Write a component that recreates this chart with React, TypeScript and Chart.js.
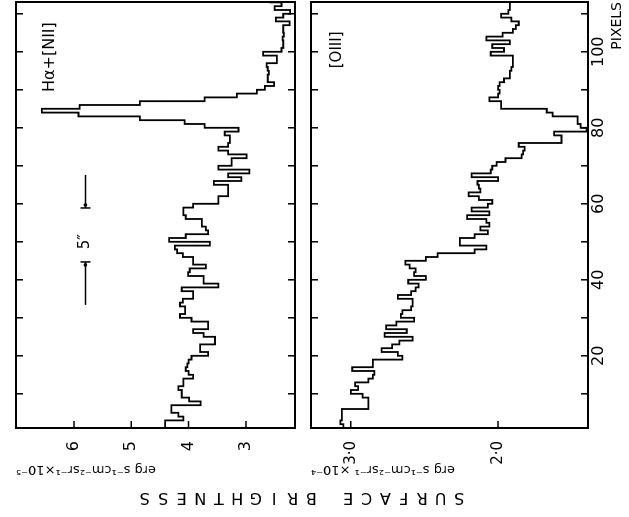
import React, { useEffect, useRef } from 'react';
import { Chart, registerables } from 'chart.js';

Chart.register(...registerables);

// Pixel index along the slit (categories)
const pixels = [
  1, 2, 3, 4, 5, 6, 7, 8, 9, 10, 11, 12, 13, 14, 15, 16, 17, 18, 19, 20,
  21, 22, 23, 24, 25, 26, 27, 28, 29, 30, 31, 32, 33, 34, 35, 36, 37, 38, 39, 40,
  41, 42, 43, 44, 45, 46, 47, 48, 49, 50, 51, 52, 53, 54, 55, 56, 57, 58, 59, 60,
  61, 62, 63, 64, 65, 66, 67, 68, 69, 70, 71, 72, 73, 74, 75, 76, 77, 78, 79, 80,
  81, 82, 83, 84, 85, 86, 87, 88, 89, 90, 91, 92, 93, 94, 95, 96, 97, 98, 99, 100,
  101, 102, 103, 104, 105, 106, 107, 108, 109, 110, 111, 112, 113,
];
const pixelEnd = 114;

// H-alpha + [NII] surface brightness (x10^-5)
const halpha = [
  4.41, 4.41, 4.09, 4.18, 4.30, 4.30, 3.79, 3.99, 4.12, 4.12,
  4.18, 4.09, 4.09, 3.92, 4.00, 4.05, 4.02, 4.00, 3.95, 3.66,
  3.80, 3.80, 3.54, 3.54, 3.74, 3.92, 3.66, 3.66, 3.95, 4.15,
  4.06, 4.06, 4.15, 4.10, 3.92, 3.92, 4.12, 3.48, 3.74, 3.74,
  4.01, 3.98, 3.70, 3.92, 3.92, 4.10, 4.20, 4.24, 3.63, 4.34,
  4.05, 3.66, 3.70, 3.77, 3.77, 4.05, 4.09, 4.09, 3.92, 3.48,
  3.48, 3.31, 3.31, 3.31, 3.56, 3.08, 3.31, 2.94, 3.48, 3.25,
  3.25, 2.99, 3.31, 3.48, 3.31, 3.28, 3.28, 3.37, 3.13, 3.72,
  4.07, 4.85, 5.92, 6.56, 5.90, 4.85, 3.72, 3.16, 2.81, 2.67,
  2.51, 2.62, 2.62, 2.60, 2.62, 2.64, 2.46, 2.46, 2.70, 2.38,
  2.35, 2.35, 2.36, 2.34, 2.35, 2.35, 2.24, 2.48, 2.35, 2.23,
  2.50, 2.38, 2.58,
];

// [OIII] surface brightness (x10^-4)
const oiii = [
  3.05, 3.07, 3.06, 3.06, 3.06, 2.88, 2.88, 2.88, 2.92, 3.00,
  2.95, 2.97, 2.88, 2.85, 2.84, 2.99, 2.85, 2.85, 2.65, 2.68,
  2.79, 2.72, 2.67, 2.58, 2.77, 2.62, 2.76, 2.69, 2.57, 2.66,
  2.65, 2.59, 2.58, 2.58, 2.68, 2.59, 2.56, 2.54, 2.61, 2.49,
  2.57, 2.56, 2.60, 2.63, 2.49, 2.41, 2.16, 2.08, 2.26, 2.26,
  2.16, 2.07, 2.12, 2.06, 2.08, 2.21, 2.06, 2.18, 2.07, 2.04,
  2.13, 2.20, 2.12, 2.13, 2.14, 2.00, 2.18, 2.05, 2.04, 2.01,
  1.95, 1.84, 1.83, 1.82, 1.86, 1.57, 1.57, 1.62, 1.40, 1.44,
  1.46, 1.46, 1.63, 1.67, 1.98, 1.98, 2.06, 2.00, 1.99, 2.00,
  1.99, 1.96, 1.92, 1.92, 1.91, 1.90, 1.90, 1.90, 2.05, 1.96,
  2.04, 1.92, 2.08, 1.97, 1.90, 1.88, 1.86, 1.91, 1.98, 1.93,
  1.92, 1.92, 1.92,
];

const pixelTicks = [20, 40, 60, 80, 100];
const pixelMinorTicks = [10, 20, 30, 40, 50, 60, 70, 80, 90, 100, 110];
const halphaTicks = [3, 4, 5, 6];
const halphaTickLabels = ['3', '4', '5', '6'];
const oiiiTicks = [2, 3];
const oiiiTickLabels = ['2·0', '3·0'];

const halphaTitle = 'erg s⁻¹cm⁻²sr⁻¹×10⁻⁵';
const oiiiTitle = 'erg s⁻¹cm⁻²sr⁻¹ ×10⁻⁴';
const outerTitle = 'SURFACE BRIGHTNESS';

const FONT = 'DejaVu Sans';
const INK = '#000';

const toSteps = (vals: number[]) => {
  const pts = pixels.map((p, i) => ({ x: p, y: vals[i] }));
  pts.push({ x: pixelEnd, y: vals[vals.length - 1] });
  return pts;
};

const decorPlugin = {
  id: 'decor',
  afterDatasetsDraw(chart: any) {
    const { ctx, chartArea: ca, scales } = chart;
    const x = scales.x;
    ctx.save();
    ctx.strokeStyle = INK;
    ctx.fillStyle = INK;
    const panels: [string, number[]][] = [
      ['yH', halphaTicks],
      ['yO', oiiiTicks],
    ];
    panels.forEach(([id, ticks]) => {
      const s = scales[id];
      ctx.lineWidth = 2;
      ctx.strokeRect(ca.left, s.top, ca.right - ca.left, s.bottom - s.top);
      ctx.lineWidth = 1.5;
      ctx.beginPath();
      pixelMinorTicks.forEach((t) => {
        const px = x.getPixelForValue(t);
        ctx.moveTo(px, s.top);
        ctx.lineTo(px, s.top + 7);
        ctx.moveTo(px, s.bottom);
        ctx.lineTo(px, s.bottom - 7);
      });
      ticks.forEach((v) => {
        const py = s.getPixelForValue(v);
        ctx.moveTo(ca.left, py);
        ctx.lineTo(ca.left + 7, py);
      });
      ctx.stroke();
    });

    const yH = scales.yH;
    const yO = scales.yO;

    // panel labels
    ctx.textAlign = 'center';
    ctx.textBaseline = 'middle';
    ctx.font = `16px "${FONT}"`;
    ctx.fillText('Hα+[NII]', x.getPixelForValue(98.6), yH.getPixelForValue(6.42));
    ctx.font = `15px "${FONT}"`;
    ctx.fillText('[OIII]', x.getPixelForValue(100.5), yO.getPixelForValue(3.09));

    // 5" scale marker
    const by = yH.getPixelForValue(5.8);
    const a0 = x.getPixelForValue(33.4);
    const a1 = x.getPixelForValue(44.7);
    const b0 = x.getPixelForValue(58.9);
    const b1 = x.getPixelForValue(67.6);
    ctx.lineWidth = 1.5;
    ctx.beginPath();
    ctx.moveTo(a0, by); ctx.lineTo(a1, by);
    ctx.moveTo(a1, by - 5); ctx.lineTo(a1, by + 5);
    ctx.moveTo(b0, by); ctx.lineTo(b1, by);
    ctx.moveTo(b0, by - 5); ctx.lineTo(b0, by + 5);
    ctx.stroke();
    ctx.beginPath();
    ctx.arc(a1 - 3, by, 1.8, 0, Math.PI * 2);
    ctx.arc(b0 + 3, by, 1.8, 0, Math.PI * 2);
    ctx.fill();
    ctx.font = `15px "${FONT}"`;
    ctx.fillText('5″', x.getPixelForValue(50), by);

    // outer title, spaced letters
    ctx.save();
    ctx.translate(20, (ca.top + ca.bottom) / 2);
    ctx.rotate(-Math.PI / 2);
    ctx.font = `16px "${FONT}"`;
    const pitch = 18.5;
    const n = outerTitle.length;
    for (let i = 0; i < n; i++) {
      ctx.fillText(outerTitle[i], (i - (n - 1) / 2) * pitch, 0);
    }
    ctx.restore();
    ctx.restore();
  },
};

export default function App() {
  const ref = useRef<HTMLCanvasElement>(null);
  useEffect(() => {
    const canvas = ref.current;
    if (!canvas) return;
    const yCommon = (
      weight: number,
      min: number,
      max: number,
      ticks: number[],
      labels: string[],
      title: string,
      tickSize: number
    ) => ({
      type: 'linear',
      position: 'left',
      stack: 'v',
      stackWeight: weight,
      min,
      max,
      grid: { display: false },
      border: { display: false },
      afterBuildTicks: (s: any) => {
        s.ticks = ticks.map((v) => ({ value: v }));
      },
      afterFit: (s: any) => {
        s.width = 49;
      },
      ticks: {
        font: { family: FONT, size: tickSize },
        color: INK,
        padding: 5,
        callback: (v: any) => {
          const i = ticks.indexOf(Number(v));
          return i >= 0 ? labels[i] : '';
        },
      },
      title: {
        display: true,
        text: title,
        align: 'end',
        color: INK,
        font: { family: FONT, size: 13 },
        padding: { top: 0, bottom: 0 },
      },
    });

    const chart = new Chart(canvas, {
      type: 'line',
      data: {
        datasets: [
          {
            label: 'Hα+[NII]',
            data: toSteps(halpha),
            xAxisID: 'x',
            yAxisID: 'yH',
            stepped: true,
            borderColor: INK,
            borderWidth: 1.8,
            pointRadius: 0,
            fill: false,
          },
          {
            label: '[OIII]',
            data: toSteps(oiii),
            xAxisID: 'x',
            yAxisID: 'yO',
            stepped: true,
            borderColor: INK,
            borderWidth: 1.8,
            pointRadius: 0,
            fill: false,
          },
        ],
      },
      options: {
        responsive: false,
        animation: false,
        devicePixelRatio: 1,
        layout: { padding: { left: 40, right: 2, top: 16, bottom: 0 } },
        plugins: {
          legend: { display: false },
          tooltip: { enabled: false },
        },
        scales: {
          x: {
            type: 'linear',
            position: 'bottom',
            min: 1,
            max: 113.1,
            grid: { display: false },
            border: { display: false },
            afterBuildTicks: (s: any) => {
              s.ticks = pixelTicks.map((v) => ({ value: v }));
            },
            afterFit: (s: any) => {
              s.height = 41;
            },
            ticks: {
              font: { family: FONT, size: 16 },
              color: INK,
              padding: -7,
              maxRotation: 0,
              autoSkip: false,
            },
            title: {
              display: true,
              text: 'PIXELS',
              align: 'end',
              color: INK,
              font: { family: FONT, size: 14 },
              padding: { top: 0, bottom: 3 },
            },
          },
          yO: yCommon(277, 1.39, 3.27, oiiiTicks, oiiiTickLabels, oiiiTitle, 15),
          gap: {
            type: 'linear',
            position: 'left',
            stack: 'v',
            stackWeight: 16,
            display: true,
            grid: { display: false },
            border: { display: false },
            ticks: { display: false },
            afterFit: (s: any) => {
              s.width = 49;
            },
          },
          yH: yCommon(279, 2.145, 7.01, halphaTicks, halphaTickLabels, halphaTitle, 16),
        },
      } as any,
      plugins: [decorPlugin],
    } as any);
    return () => chart.destroy();
  }, []);

  return (
    <div
      style={{
        position: 'fixed',
        left: 0,
        top: 0,
        width: 517,
        height: 629,
        transformOrigin: '0 0',
        transform: 'translateY(517px) rotate(-90deg)',
        background: '#fff',
      }}
    >
      <canvas ref={ref} width={517} height={629} style={{ display: 'block', width: 517, height: 629 }} />
    </div>
  );
}
